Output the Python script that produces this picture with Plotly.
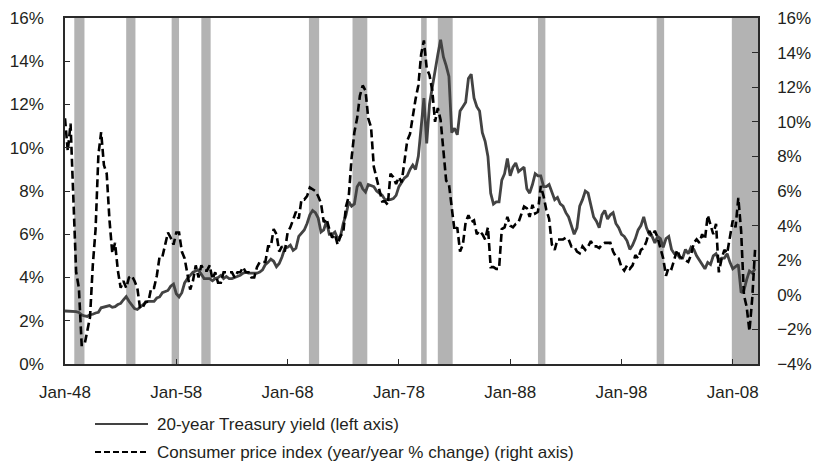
import plotly.graph_objects as go
import pandas as pd

# ---- data (quarterly: Jan, Apr, Jul, Oct) ----
start_date = "1948-01-01"

yield_20y = [
    2.45, 2.44, 2.45, 2.45,   # 1948
    2.42, 2.38, 2.27, 2.22,   # 1949
    2.20, 2.28, 2.30, 2.36,   # 1950
    2.39, 2.60, 2.63, 2.66,   # 1951
    2.70, 2.62, 2.65, 2.75,   # 1952
    2.80, 2.97, 3.12, 2.90,   # 1953
    2.70, 2.56, 2.52, 2.62,   # 1954
    2.75, 2.85, 2.90, 2.90,   # 1955
    2.90, 3.05, 3.10, 3.30,   # 1956
    3.35, 3.40, 3.60, 3.70,   # 1957
    3.25, 3.10, 3.30, 3.75,   # 1958
    3.95, 4.10, 4.25, 4.30,   # 1959
    4.35, 4.15, 3.95, 3.95,   # 1960
    3.95, 3.85, 3.95, 4.00,   # 1961
    4.10, 3.95, 4.05, 3.95,   # 1962
    3.95, 4.00, 4.05, 4.10,   # 1963
    4.20, 4.25, 4.20, 4.20,   # 1964
    4.20, 4.20, 4.25, 4.35,   # 1965
    4.60, 4.70, 4.85, 4.75,   # 1966
    4.50, 4.65, 4.95, 5.35,   # 1967
    5.40, 5.50, 5.25, 5.35,   # 1968
    5.90, 6.05, 6.20, 6.50,   # 1969
    6.90, 7.10, 7.00, 6.75,   # 1970
    6.10, 6.20, 6.60, 6.00,   # 1971
    6.00, 6.10, 5.80, 5.90,   # 1972
    6.50, 6.90, 7.50, 7.30,   # 1973
    7.40, 8.20, 8.40, 8.10,   # 1974
    7.95, 8.30, 8.25, 8.20,   # 1975
    8.00, 7.90, 7.80, 7.60,   # 1976
    7.60, 7.60, 7.65, 7.80,   # 1977
    8.20, 8.40, 8.60, 8.70,   # 1978
    9.00, 9.20, 9.00, 9.60,   # 1979
    11.00, 12.30, 10.20, 12.00,  # 1980
    12.80, 13.60, 14.30, 15.00,  # 1981
    14.20, 13.80, 13.30, 10.70,  # 1982
    10.90, 10.60, 11.70, 11.90,  # 1983
    12.10, 13.20, 13.40, 12.30,  # 1984
    11.90, 11.70, 10.70, 10.30,  # 1985
    9.60, 7.90, 7.40, 7.50,   # 1986
    7.50, 8.50, 8.80, 9.50,   # 1987
    8.70, 9.10, 9.30, 8.90,   # 1988
    9.00, 9.10, 8.10, 7.90,   # 1989
    8.30, 8.80, 8.70, 8.70,   # 1990
    8.20, 8.20, 8.30, 7.90,   # 1991
    7.60, 7.70, 7.40, 7.30,   # 1992
    7.00, 6.80, 6.40, 6.00,   # 1993
    6.30, 7.30, 7.60, 8.00,   # 1994
    7.90, 7.30, 6.80, 6.60,   # 1995
    6.30, 6.90, 7.10, 6.70,   # 1996
    6.90, 7.00, 6.50, 6.30,   # 1997
    6.00, 5.90, 5.70, 5.30,   # 1998
    5.50, 5.80, 6.20, 6.40,   # 1999
    6.80, 6.30, 6.00, 5.90,   # 2000
    5.60, 5.90, 5.80, 5.40,   # 2001
    5.80, 5.90, 5.30, 5.10,   # 2002
    5.10, 4.90, 4.90, 5.30,   # 2003
    5.10, 5.40, 5.30, 5.00,   # 2004
    4.80, 4.60, 4.40, 4.70,   # 2005
    4.60, 5.00, 5.10, 4.80,   # 2006
    4.90, 4.90, 5.10, 4.70,   # 2007
    4.40, 4.50, 4.60, 3.30,   # 2008
    3.40, 3.90, 4.30, 4.20,   # 2009
    4.40,                     # 2010
]

cpi_yoy = [
    10.2, 8.3, 9.9, 6.1,      # 1948
    1.3, 0.4, -2.9, -2.9,     # 1949
    -2.1, -1.3, 1.7, 3.8,     # 1950
    8.1, 9.4, 7.5, 7.0,       # 1951
    4.3, 2.4, 3.0, 1.4,       # 1952
    0.4, 0.8, 0.4, 1.0,       # 1953
    1.1, 0.8, 0.4, -0.8,      # 1954
    -0.7, -0.4, -0.4, 0.4,    # 1955
    0.4, 1.1, 2.2, 2.2,       # 1956
    2.9, 3.6, 3.3, 2.9,       # 1957
    3.6, 3.6, 2.5, 2.1,       # 1958
    1.2, 0.3, 0.8, 1.7,       # 1959
    1.0, 1.7, 1.4, 1.4,       # 1960
    1.7, 0.9, 1.3, 0.7,       # 1961
    0.7, 1.3, 1.3, 1.3,       # 1962
    1.3, 1.0, 1.3, 1.3,       # 1963
    1.6, 1.3, 1.3, 1.0,       # 1964
    1.0, 1.6, 1.9, 1.9,       # 1965
    1.9, 2.8, 2.8, 3.8,       # 1966
    3.5, 2.5, 2.8, 2.5,       # 1967
    3.6, 3.9, 4.4, 4.8,       # 1968
    4.4, 5.5, 5.5, 5.7,       # 1969
    6.2, 6.1, 6.0, 5.7,       # 1970
    5.3, 4.2, 4.4, 3.8,       # 1971
    3.3, 3.5, 2.9, 3.4,       # 1972
    3.6, 5.1, 5.7, 7.9,       # 1973
    9.4, 10.2, 11.5, 12.1,    # 1974
    11.8, 10.2, 9.7, 7.4,     # 1975
    6.7, 6.0, 5.4, 5.4,       # 1976
    5.2, 7.0, 6.8, 6.4,       # 1977
    6.8, 6.5, 7.7, 8.9,       # 1978
    9.3, 10.4, 11.3, 12.1,    # 1979
    13.9, 14.7, 13.1, 12.7,   # 1980
    11.8, 10.0, 10.8, 10.1,   # 1981
    8.4, 6.6, 6.4, 5.1,       # 1982
    3.7, 3.9, 2.5, 2.9,       # 1983
    4.2, 4.6, 4.2, 4.3,       # 1984
    3.5, 3.7, 3.5, 3.2,       # 1985
    3.9, 1.6, 1.6, 1.5,       # 1986
    1.5, 3.8, 3.9, 4.5,       # 1987
    4.0, 3.9, 4.1, 4.2,       # 1988
    4.7, 5.1, 5.0, 4.5,       # 1989
    5.2, 4.7, 4.8, 6.3,       # 1990
    5.7, 4.9, 4.4, 2.9,       # 1991
    2.6, 3.2, 3.2, 3.2,       # 1992
    3.3, 3.2, 2.8, 2.8,       # 1993
    2.5, 2.4, 2.8, 2.6,       # 1994
    2.8, 3.1, 2.8, 2.8,       # 1995
    2.7, 2.9, 3.0, 3.0,       # 1996
    3.0, 2.5, 2.2, 2.1,       # 1997
    1.6, 1.4, 1.7, 1.5,       # 1998
    1.7, 2.3, 2.1, 2.6,       # 1999
    2.7, 3.1, 3.7, 3.4,       # 2000
    3.7, 3.3, 2.7, 2.1,       # 2001
    1.1, 1.6, 1.5, 2.0,       # 2002
    2.6, 2.2, 2.1, 2.0,       # 2003
    1.9, 2.3, 3.0, 3.2,       # 2004
    3.0, 3.5, 3.2, 4.6,       # 2005
    4.0, 3.5, 4.1, 1.3,       # 2006
    2.1, 2.6, 2.4, 3.5,       # 2007
    4.3, 3.9, 5.6, 3.7,       # 2008
    0.0, -0.7, -2.1, -0.2,    # 2009
    2.6,                      # 2010
]

recession_start = ["1948-11-01", "1953-07-01", "1957-08-01", "1960-04-01",
                   "1969-12-01", "1973-11-01", "1980-01-01", "1981-07-01",
                   "1990-07-01", "2001-03-01", "2007-12-01"]
recession_end = ["1949-10-01", "1954-05-01", "1958-04-01", "1961-02-01",
                 "1970-11-01", "1975-03-01", "1980-07-01", "1982-11-01",
                 "1991-03-01", "2001-11-01", "2010-04-08"]

x_range = ["1948-01-01", "2010-04-08"]
x_tick_dates = ["1948-01-01", "1958-01-01", "1968-01-01", "1978-01-01",
                "1988-01-01", "1998-01-01", "2008-01-01"]
x_tick_labels = ["Jan-48", "Jan-58", "Jan-68", "Jan-78", "Jan-88", "Jan-98", "Jan-08"]
left_ticks = [0, 2, 4, 6, 8, 10, 12, 14, 16]
right_ticks = [-4, -2, 0, 2, 4, 6, 8, 10, 12, 14, 16]

name_yield = "20-year Treasury yield (left axis)"
name_cpi = "Consumer price index (year/year % change) (right axis)"


def pct(v):
    return ("\u2212" + str(abs(v)) if v < 0 else str(v)) + "%"


dates = pd.date_range(start_date, periods=len(yield_20y), freq="QS")

FONT = "Liberation Sans, Arial, Helvetica, sans-serif"
TXT = "#231f20"
AX = "#2a2a2a"
W, H = 815, 461
ML, MR, MT, MB = 65, 57, 18, 97
PW, PH = W - ML - MR, H - MT - MB

fig = go.Figure()

fig.add_trace(go.Scatter(
    x=dates, y=yield_20y, name=name_yield, mode="lines",
    line=dict(color="#434343", width=2.8), yaxis="y"))
fig.add_trace(go.Scatter(
    x=dates, y=cpi_yoy, name=name_cpi, mode="lines",
    line=dict(color="#000000", width=2.6, dash="8px,4px"), yaxis="y2"))

for s, e in zip(recession_start, recession_end):
    fig.add_shape(type="rect", xref="x", yref="paper", x0=s, x1=e, y0=0, y1=1,
                  fillcolor="#b3b3b3", line=dict(width=0), layer="below")

# legend drawn below the plot (line samples + labels)
legend_items = [(name_yield, "#434343", "solid", 424), (name_cpi, "#000000", "6px,3px", 452)]
for label, col, dash, py in legend_items:
    yp = ((MT + PH) - py) / PH
    fig.add_shape(type="line", xref="paper", yref="paper",
                  x0=(95 - ML) / PW, x1=(148 - ML) / PW, y0=yp, y1=yp,
                  line=dict(color=col, width=2.2, dash=dash))
    fig.add_annotation(xref="paper", yref="paper", x=(155 - ML) / PW, y=yp,
                       text=label, showarrow=False, xanchor="left", yanchor="middle",
                       font=dict(family=FONT, size=17, color=TXT))

fig.update_layout(
    width=W, height=H,
    margin=dict(l=ML, r=MR, t=MT, b=MB, autoexpand=False),
    paper_bgcolor="white", plot_bgcolor="white",
    font=dict(family=FONT, size=17, color=TXT),
    showlegend=False,
    xaxis=dict(
        type="date", range=x_range, tickvals=x_tick_dates, ticktext=x_tick_labels,
        tickangle=0, showgrid=False, zeroline=False,
        showline=True, linecolor=AX, linewidth=1.5, mirror=True,
        ticks="inside", ticklen=5, tickcolor=AX, ticklabelstandoff=12,
        tickfont=dict(size=17, color=TXT)),
    yaxis=dict(
        range=[0, 16], tickvals=left_ticks, ticktext=[pct(v) for v in left_ticks],
        showgrid=False, zeroline=False, showline=True, linecolor=AX,
        linewidth=1.5, ticks="inside", ticklen=5, tickcolor=AX,
        ticklabelstandoff=16, tickfont=dict(size=17, color=TXT)),
    yaxis2=dict(
        range=[-4, 16], tickvals=right_ticks, ticktext=[pct(v) for v in right_ticks],
        overlaying="y", side="right", showgrid=False, zeroline=False,
        showline=True, linecolor=AX, linewidth=1.5, ticks="inside",
        ticklen=6, tickcolor=AX, ticklabelstandoff=14,
        tickfont=dict(size=17, color=TXT)),
)

fig.write_html("out.html", config={"displayModeBar": False},
               post_script="document.body.style.margin='0px';")
